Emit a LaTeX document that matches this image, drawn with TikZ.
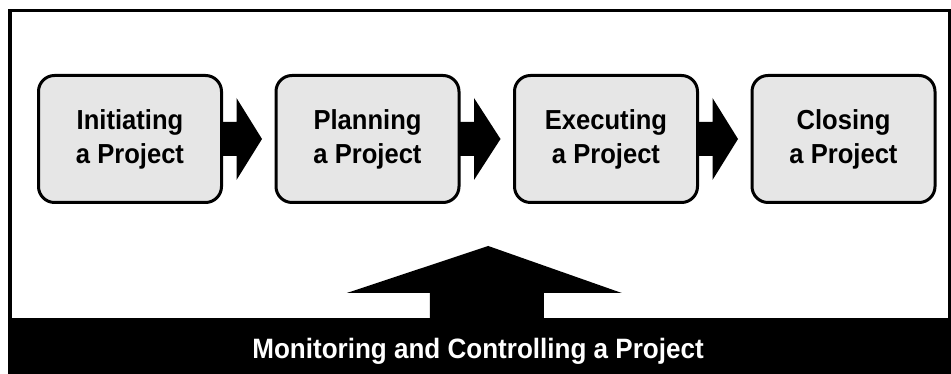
\documentclass[tikz,border=0pt]{standalone}
\usepackage{fontspec}
\usetikzlibrary{calc}
\newfontfamily\boxfont{Liberation Sans}[FakeStretch=0.93]
\newfontfamily\barfont{Liberation Sans}[FakeStretch=0.93]
\definecolor{boxgray}{HTML}{E6E6E6}
\tikzset{
  phase/.style={draw=black, line width=3pt, fill=boxgray, rounded corners=16pt,
    minimum width=183pt, minimum height=127pt, inner sep=0pt, outer sep=0pt,
    align=center, font=\boxfont\bfseries\fontsize{27.5}{34}\selectfont},
  fat/.style={fill=black},
  barstyle/.style={fill=black, draw=none, minimum width=943pt, minimum height=56pt,
    inner sep=0pt, outer sep=0pt},
  bartextstyle/.style={text=white, font=\barfont\bfseries\fontsize{28}{34}\selectfont}
}
\begin{document}
\begin{tikzpicture}[x=1pt,y=1pt]
\useasboundingbox (0,0) rectangle (951,374);
\fill[white] (0,0) rectangle (951,374);
% outer frame
\draw[line width=3.5pt] (10,0) -- (10,363.3) -- (949.3,363.3) -- (949.3,0);
% bottom bar
\node[barstyle, anchor=south west] (bar) at (8,0) {};
\node[bartextstyle] (bartext) at (478,23) {Monitoring and Controlling a Project};
% phases
\node[phase] (b1) at (130,235) {Initiating\\a Project};
\node[phase] (b2) at (367.5,235) {Planning\\a Project};
\node[phase] (b3) at (606,235) {Executing\\a Project};
\node[phase] (b4) at (843.5,235) {Closing\\a Project};
% fat arrows between phases
\foreach \a/\b in {b1/b2, b2/b3, b3/b4}{
  \fill[fat] ([yshift=17pt]\a.east) -- ++(15,0) -- ++(0,24) -- ([xshift=-14pt]\b.west)
    -- ($(\a.east)+(15,-41)$) -- ++(0,24) -- ([yshift=-17pt]\a.east) -- cycle;
}
% up arrow from the bar
\coordinate (up) at ($(b2.east)!0.5!(b3.west)$);
\fill[fat] ($(up |- bar.north)+(-57,0)$) -- ++(0,25) -- ++(-83,0)
  -- ($(up |- bar.north)+(1.5,72)$) -- ($(up |- bar.north)+(135,25)$)
  -- ($(up |- bar.north)+(57,25)$) -- ($(up |- bar.north)+(57,0)$) -- cycle;
\end{tikzpicture}
\end{document}
